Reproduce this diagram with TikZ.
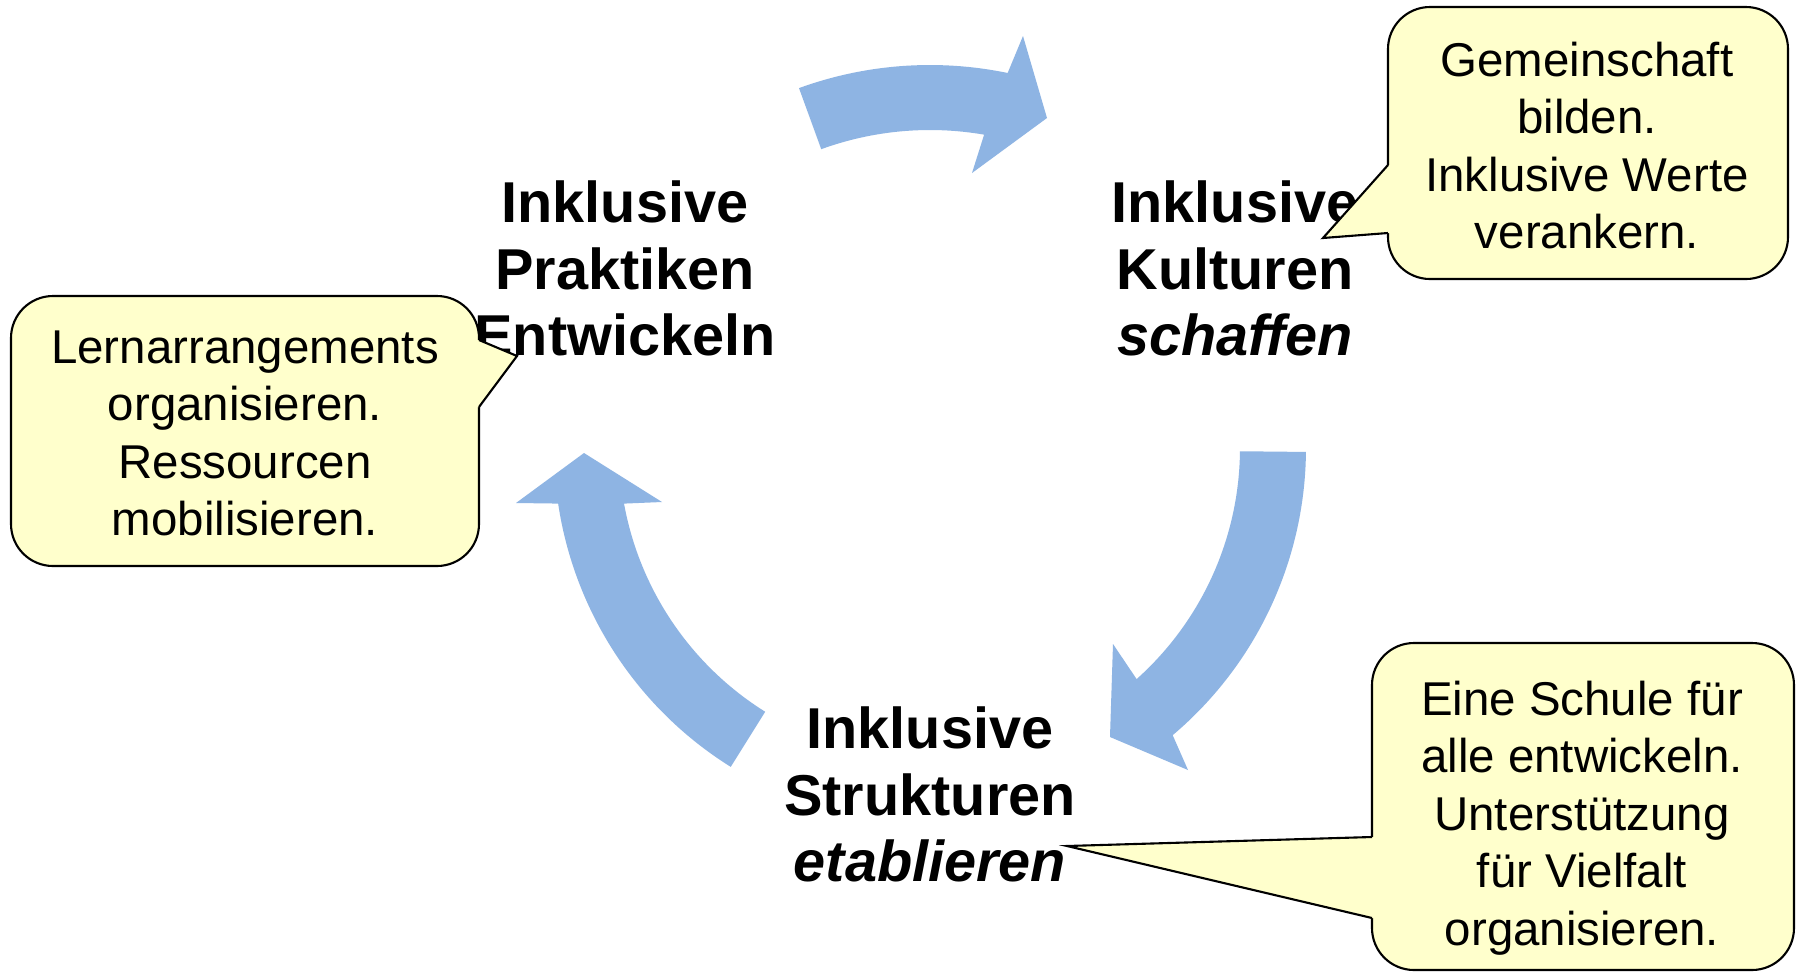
\documentclass[tikz,border=0pt]{standalone}
\usepackage{fontspec}
\setmainfont{Liberation Sans}
\usetikzlibrary{calc}
\definecolor{arrowblue}{HTML}{8EB4E3}
\definecolor{calloutfill}{HTML}{FFFFCC}
\begin{document}
\begin{tikzpicture}[
  blockarrow/.style={fill=arrowblue},
  callbox/.style={draw=black, line width=0.6pt, fill=calloutfill, rounded corners=0.42cm},
  pointerfill/.style={fill=calloutfill},
  pointerline/.style={draw=black, line width=0.6pt, line join=miter},
  mainlabel/.style={anchor=base, inner sep=0pt, font=\fontsize{16.4}{19.06}\selectfont\bfseries},
  calltext/.style={anchor=base, inner sep=0pt, font=\fontsize{13.5}{16.4}\selectfont},
]
\useasboundingbox (0,0) rectangle (17.97,-9.72);
\fill[white] (0,0) rectangle (17.97,-9.72);
\coordinate (C) at (9.30,-4.48);

% curved block arrows
\fill[blockarrow] ($(C)+(110:3.83)$) arc[start angle=110,end angle=78.3,radius=3.83cm]
  -- (10.23,-0.36) -- (10.47,-1.18) -- (9.72,-1.73)
  -- ($(C)+(80.2:3.18)$) arc[start angle=80.2,end angle=110,radius=3.18cm] -- cycle;
\fill[blockarrow] ($(C)+(-0.6:3.76)$) arc[start angle=-0.6,end angle=-49.8,radius=3.76cm]
  -- (11.88,-7.70) -- (11.10,-7.37) -- (11.13,-6.44)
  -- ($(C)+(-48.2:3.10)$) arc[start angle=-48.2,end angle=-0.6,radius=3.10cm] -- cycle;
\fill[blockarrow] ($(C)+(238:3.76)$) arc[start angle=238,end angle=188.5,radius=3.76cm]
  -- (5.16,-5.03) -- (5.84,-4.53) -- (6.62,-5.02)
  -- ($(C)+(190.3:3.11)$) arc[start angle=190.3,end angle=238,radius=3.11cm] -- cycle;

% main labels
\node[mainlabel] (prak) at (6.25,-2.22) {\begin{tabular}[t]{@{}c@{}}Inklusive\\Praktiken\\Entwickeln\end{tabular}};
\node[mainlabel] (kult) at (12.35,-2.22) {\begin{tabular}[t]{@{}c@{}}Inklusive\\Kulturen\\\textit{schaffen}\end{tabular}};
\node[mainlabel] (struk) at (9.30,-7.48) {\begin{tabular}[t]{@{}c@{}}Inklusive\\Strukturen\\\textit{etablieren}\end{tabular}};

% callout: top right
\coordinate (tipK) at (13.23,-2.38);
\coordinate (k1) at (13.88,-1.65);
\coordinate (k2) at (13.88,-2.33);
\draw[callbox] (13.88,-0.07) rectangle (17.88,-2.79);
\fill[pointerfill] (k1) -- (tipK) -- (k2) -- ($(k2)+(0.04,0)$) -- ($(k1)+(0.04,0)$) -- cycle;
\draw[pointerline] (k1) -- (tipK) -- (k2);
\node[calltext] (tk) at (15.87,-0.76) {\begin{tabular}[t]{@{}c@{}}Gemeinschaft\\bilden.\\Inklusive Werte\\verankern.\end{tabular}};

% callout: left
\coordinate (tipP) at (5.17,-3.56);
\coordinate (p1) at (4.79,-3.40);
\coordinate (p2) at (4.79,-4.07);
\draw[callbox] (0.11,-2.96) rectangle (4.79,-5.66);
\fill[pointerfill] (p1) -- (tipP) -- (p2) -- ($(p2)+(-0.04,0)$) -- ($(p1)+(-0.04,0)$) -- cycle;
\draw[pointerline] (p1) -- (tipP) -- (p2);
\node[calltext] (tp) at (2.45,-3.63) {\begin{tabular}[t]{@{}c@{}}Lernarrangements\\organisieren.\\Ressourcen\\mobilisieren.\end{tabular}};

% callout: bottom right
\coordinate (tipS) at (10.67,-8.46);
\coordinate (s1) at (13.72,-8.37);
\coordinate (s2) at (13.72,-9.18);
\draw[callbox] (13.72,-6.43) rectangle (17.94,-9.70);
\fill[pointerfill] (s1) -- (tipS) -- (s2) -- ($(s2)+(0.04,0)$) -- ($(s1)+(0.04,0)$) -- cycle;
\draw[pointerline] (s1) -- (tipS) -- (s2);
\node[calltext] (ts) at (15.82,-7.15) {\begin{tabular}[t]{@{}c@{}}Eine Schule für\\alle entwickeln.\\Unterstützung\\für Vielfalt\\organisieren.\end{tabular}};
\end{tikzpicture}
\end{document}
